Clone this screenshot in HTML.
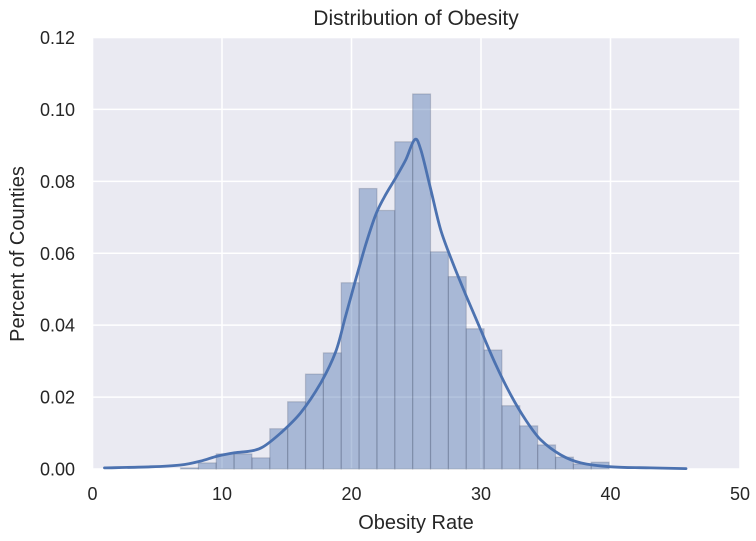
<!DOCTYPE html>
<html><head><meta charset="utf-8"><style>
html,body{margin:0;padding:0;background:#fff;}
svg{display:block;font-family:"Liberation Sans",sans-serif;}
</style></head><body>
<svg id="chart" width="756" height="541"></svg>
<script>
const binStart = 1.28;
const binWidth = 1.379;
const firstBin = 4;
const barValues = [0.0003,0.0017,0.0042,0.0042,0.0031,0.0112,0.0187,0.0264,0.0323,0.0518,0.078,0.0719,0.091,0.1043,0.0604,0.0535,0.039,0.0331,0.0176,0.012,0.0067,0.0033,0.0014,0.0019];
const kdeX = [0.93,4.48,6.80,8.35,9.66,10.97,12.21,13.14,14.53,16.07,17.62,18.78,19.55,20.32,21.10,21.87,22.64,23.42,24.19,24.88,25.35,26.12,26.89,27.82,28.83,29.98,31.14,32.30,33.46,34.62,36.17,37.71,40.03,43.12,45.83];
const kdeY = [0.0003,0.0006,0.0011,0.0022,0.0036,0.0045,0.005,0.0061,0.01,0.0156,0.0239,0.0326,0.0426,0.0526,0.0624,0.0707,0.0763,0.081,0.086,0.0916,0.0888,0.0777,0.0665,0.0573,0.0484,0.0387,0.029,0.0206,0.0136,0.0081,0.0039,0.0017,0.0006,0.0003,0.0001];
const xTicks = [0,10,20,30,40,50];
const yTicks = [0,0.02,0.04,0.06,0.08,0.10,0.12];
const yTickLabels = ["0.00","0.02","0.04","0.06","0.08","0.10","0.12"];

const L=92.5,R=740,T=37.5,B=469;
const xs=v=>L+(v-0)/50*(R-L);
const ys=v=>B-(v/0.12)*(B-T);
const NS="http://www.w3.org/2000/svg";
const svg=document.getElementById('chart');
function mk(tag,attrs,parent){const e=document.createElementNS(NS,tag);for(const k in attrs)e.setAttribute(k,attrs[k]);(parent||svg).appendChild(e);return e;}

const bg=mk('rect',{x:L,y:T,width:R-L,height:B-T,fill:'#eaeaf2'});



xTicks.forEach(t=>{
  const g=mk('line',{x1:xs(t),x2:xs(t),y1:T,y2:B,stroke:'#fff','stroke-width':1.5});
  
  
  const lb=mk('text',{x:xs(t),y:500,'text-anchor':'middle','font-size':18,fill:'#262626'});
  lb.textContent=t;
  
  
});
yTicks.forEach((t,i)=>{
  const g=mk('line',{x1:L,x2:R,y1:ys(t),y2:ys(t),stroke:'#fff','stroke-width':1.5});
  
  
  const lb=mk('text',{x:75,y:ys(t)+6.5,'text-anchor':'end','font-size':18,fill:'#262626'});
  lb.textContent=yTickLabels[i];
  
  
});

barValues.forEach((v,i)=>{
  const x0=binStart+(firstBin+i)*binWidth;
  const b=mk('rect',{x:xs(x0),y:ys(v),width:xs(x0+binWidth)-xs(x0),height:B-ys(v),fill:'rgba(76,114,176,0.42)',stroke:'rgba(60,70,90,0.22)','stroke-width':1.2});
  
  
});

const pts=kdeX.map((x,i)=>[xs(x),ys(kdeY[i])]);
let d='M'+pts[0][0].toFixed(1)+','+pts[0][1].toFixed(1);
for(let i=0;i<pts.length-1;i++){
  const p0=pts[Math.max(0,i-1)],p1=pts[i],p2=pts[i+1],p3=pts[Math.min(pts.length-1,i+2)];
  const c1=[p1[0]+(p2[0]-p0[0])/6,p1[1]+(p2[1]-p0[1])/6];
  const c2=[p2[0]-(p3[0]-p1[0])/6,p2[1]-(p3[1]-p1[1])/6];
  d+=' C'+c1.map(v=>v.toFixed(1)).join(',')+' '+c2.map(v=>v.toFixed(1)).join(',')+' '+p2.map(v=>v.toFixed(1)).join(',');
}
const p=mk('path',{d:d,fill:'none',stroke:'#4c72b0','stroke-width':2.8,'stroke-linejoin':'round','stroke-linecap':'round'});



const title=mk('text',{x:416,y:25,'text-anchor':'middle','font-size':21,fill:'#262626'});
title.textContent='Distribution of Obesity';


const xl=mk('text',{x:416,y:529,'text-anchor':'middle','font-size':20,fill:'#262626'});
xl.textContent='Obesity Rate';


const yl=mk('text',{x:0,y:0,'text-anchor':'middle','font-size':20,fill:'#262626',transform:'translate(24,254) rotate(-90)'});
yl.textContent='Percent of Counties';


</script>
</body></html>
